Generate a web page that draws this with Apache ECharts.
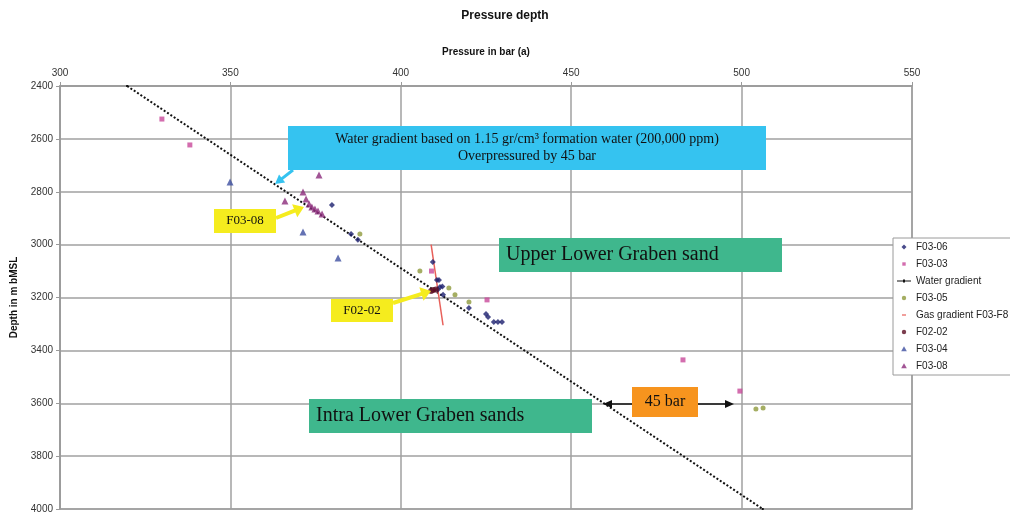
<!DOCTYPE html>
<html><head><meta charset="utf-8">
<script src="https://cdn.jsdelivr.net/npm/echarts@6/dist/echarts.min.js"></script>
<style>html,body{margin:0;padding:0;background:#fff}#c{width:1010px;height:514px}</style>
</head><body><div id="c"></div>
<script>
// ---- data (pressure bar, depth m) ----
const xTicks = [300, 350, 400, 450, 500, 550];
const yTicks = [2400, 2600, 2800, 3000, 3200, 3400, 3600, 3800, 4000];
const f0306 = [[379.8,2850],[385.4,2960],[387.4,2982],[409.4,3066],[410.6,3134],[411.2,3134],[411.5,3160],[412.2,3158],[410.9,3170],[412.4,3190],[420.0,3240],[425.0,3262],[425.6,3274],[427.3,3293],[428.5,3293],[429.7,3293]];
const f0303 = [[329.9,2525],[338.1,2623],[409.0,3100],[425.3,3209],[482.8,3436],[499.5,3554]];
const waterGradient = [[319.7,2400],[506.2,4000]];
const f0305 = [[388.0,2960],[405.6,3100],[414.1,3164],[415.9,3190],[420.0,3217],[504.2,3622],[506.3,3618]];
const gasGradient = [[408.9,3000],[412.4,3305]];
const f0202 = [[408.9,3175],[409.5,3172],[410.3,3170]];
const f0304 = [[349.9,2763],[371.3,2952],[381.6,3051]];
const f0308 = [[376.0,2737],[371.3,2801],[366.0,2835],[372.2,2827],[373.1,2846],[373.9,2858],[374.8,2865],[375.7,2873],[376.9,2884]];

const chart = echarts.init(document.getElementById('c'));
const serif = "'Liberation Serif','DejaVu Serif',serif";

function arrow(x1,y1,x2,y2,color,w,hl,hw,twoWay){
  const L=Math.hypot(x2-x1,y2-y1), dx=(x2-x1)/L, dy=(y2-y1)/L, px=-dy, py=dx;
  const els=[];
  const head=(tx,ty,ux,uy)=>({type:'polygon',z:100,shape:{points:[[tx,ty],[tx-ux*hl+px*hw,ty-uy*hl+py*hw],[tx-ux*hl-px*hw,ty-uy*hl-py*hw]]},style:{fill:color}});
  const sx = twoWay ? x1+dx*hl : x1, sy = twoWay ? y1+dy*hl : y1;
  els.push({type:'line',z:100,shape:{x1:sx,y1:sy,x2:x2-dx*hl*0.8,y2:y2-dy*hl*0.8},style:{stroke:color,lineWidth:w}});
  els.push(head(x2,y2,dx,dy));
  if(twoWay) els.push(head(x1,y1,-dx,-dy));
  return els;
}
function box(x,y,w,h,fill,lines,fs,align,tx){
  const els=[{type:'rect',z:100,shape:{x:x,y:y,width:w,height:h},style:{fill:fill}}];
  const n=lines.length, lh=fs*1.25;
  lines.forEach((t,i)=>{
    els.push({type:'text',z:101,x: align==='left'? tx : x+w/2, y: y+h/2+(i-(n-1)/2)*lh,
      style:{text:t,fill:'#111',font:fs+'px '+serif,textAlign:align,textVerticalAlign:'middle'}});
  });
  return els;
}

const graphics = [].concat(
  arrow(293,170,275,184,'#35C3F0',3,9,5),
  box(288,126,478,44,'#35C3F0',['Water gradient based on 1.15 gr/cm\u00B3 formation water (200,000 ppm)','Overpressured by 45 bar'],14,'center'),
  arrow(276,218,304,207,'#F5EC1E',4,10,7),
  box(214,209,62,24,'#F5EC1E',['F03-08'],13,'center'),
  arrow(393,303,431,291,'#F5EC1E',4,10,7),
  box(331,299,62,23,'#F5EC1E',['F02-02'],13,'center'),
  box(499,238,283,34,'#3FB78D',['Upper Lower Graben sand'],20,'left',506),
  box(309,399,283,34,'#3FB78D',['Intra Lower Graben sands'],20,'left',316),
  arrow(603,404,734,404,'#111',1.5,9,4,true),
  box(632,387,66,30,'#F7941E',['45 bar'],16,'center')
);

// small legend icons inside a 14x8 frame (frame points only set the bounds)
const frame = 'path://M0,0L0,0M14,8L14,8';
const icDiamond = frame + 'M7,1.5L9.5,4L7,6.5L4.5,4Z';
const icSquare = frame + 'M5.3,2.3L8.7,2.3L8.7,5.7L5.3,5.7Z';
const icCircle = frame + 'M9.2,4A2.2,2.2 0 1 1 4.8,4A2.2,2.2 0 1 1 9.2,4Z';
const icTri = frame + 'M7,1.3L9.8,6.3L4.2,6.3Z';
const icDash = frame + 'M5,3.4L9,3.4L9,4.6L5,4.6Z';
const icWater = frame + 'M0,3.5L14,3.5L14,4.5L0,4.5ZM6,2.5L8,2.5L8,5.5L6,5.5Z';

const sc = (name,data,symbol,size,color)=>({name,type:'scatter',data,symbol,symbolSize:size,itemStyle:{color},z:3});

chart.setOption({
  backgroundColor:'#fff',
  animation:false,
  title:{text:'Pressure depth',left:'center',top:5,textStyle:{fontFamily:'Liberation Sans',fontSize:12,fontWeight:'bold',color:'#111'}},
  grid:{left:60,top:86,right:98,bottom:5,show:true,borderColor:'#9a9a9a',borderWidth:1.5,backgroundColor:'#fff'},
  xAxis:{type:'value',position:'top',min:xTicks[0],max:xTicks[xTicks.length-1],interval:50,
    name:'Pressure in bar (a)',nameLocation:'middle',nameGap:35,
    nameTextStyle:{fontFamily:'Liberation Sans',fontSize:10,fontWeight:'bold',color:'#111',padding:[0,0,-6,0]},
    axisLine:{lineStyle:{color:'#9a9a9a',width:1.5}},axisTick:{show:true,length:4,lineStyle:{color:'#9a9a9a'}},
    axisLabel:{fontFamily:'Liberation Sans',fontSize:10,color:'#333',margin:8},
    splitLine:{lineStyle:{color:'#a0a0a0',width:1.5}}},
  yAxis:{type:'value',inverse:true,min:yTicks[0],max:yTicks[yTicks.length-1],interval:200,
    name:'Depth in m bMSL',nameLocation:'middle',nameGap:41,nameRotate:90,
    nameTextStyle:{fontFamily:'Liberation Sans',fontSize:10,fontWeight:'bold',color:'#111'},
    axisLine:{lineStyle:{color:'#9a9a9a',width:1.5}},axisTick:{show:true,length:4,lineStyle:{color:'#9a9a9a'}},
    axisLabel:{fontFamily:'Liberation Sans',fontSize:10,color:'#333',margin:7,formatter:v=>String(v)},
    splitLine:{lineStyle:{color:'#a0a0a0',width:1.5}}},
  legend:{orient:'vertical',left:893,top:238,itemGap:7,itemWidth:14,itemHeight:8,padding:[4,30,4,4],
    backgroundColor:'#fff',borderColor:'#9a9a9a',borderWidth:1,
    textStyle:{fontFamily:'Liberation Sans',fontSize:10,color:'#222'},
    data:[
      {name:'F03-06',icon:icDiamond},
      {name:'F03-03',icon:icSquare},
      {name:'Water gradient',icon:icWater},
      {name:'F03-05',icon:icCircle},
      {name:'Gas gradient F03-F8',icon:icDash},
      {name:'F02-02',icon:icCircle},
      {name:'F03-04',icon:icTri},
      {name:'F03-08',icon:icTri}
    ]},
  series:[
    sc('F03-06',f0306,'diamond',6,'#1c1f6e'),
    sc('F03-03',f0303,'rect',5,'#c8489a'),
    {name:'Water gradient',type:'line',data:waterGradient,symbol:'rect',symbolSize:2,showSymbol:true,
      itemStyle:{color:'#111'},lineStyle:{color:'#111',width:2,type:[2,2]},z:2},
    sc('F03-05',f0305,'circle',5,'#8f9a3c'),
    {name:'Gas gradient F03-F8',type:'line',data:gasGradient,symbol:'none',
      itemStyle:{color:'#e8605a'},lineStyle:{color:'#e8605a',width:1.5},z:2},
    sc('F02-02',f0202,'circle',6,'#5a0c22'),
    sc('F03-04',f0304,'triangle',7,'#3d4fa0'),
    sc('F03-08',f0308,'triangle',7,'#8b2a7a')
  ],
  graphic:graphics
});
</script></body></html>
